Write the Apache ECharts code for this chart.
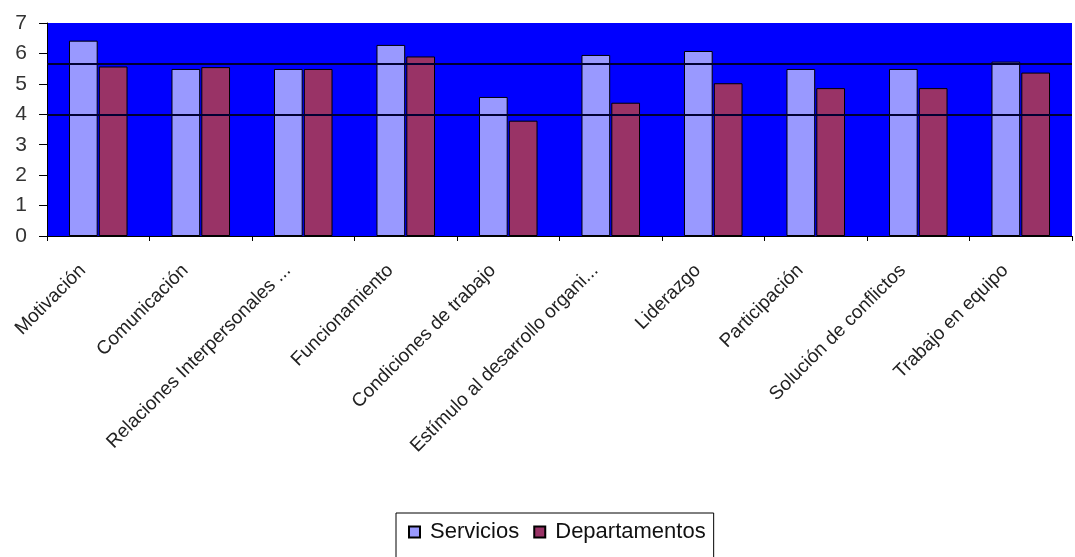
<!DOCTYPE html>
<html>
<head>
<meta charset="utf-8">
<script src="https://cdn.jsdelivr.net/npm/echarts@6/dist/echarts.min.js"></script>
<style>
html,body{margin:0;padding:0;background:#fff;}
#c{width:1075px;height:557px;}
</style>
</head>
<body>
<div id="c"></div>
<script>
const categories = ["Motivación","Comunicación","Relaciones Interpersonales ...","Funcionamiento","Condiciones de trabajo","Estímulo al desarrollo organi...","Liderazgo","Participación","Solución de conflictos","Trabajo en equipo"];
const servicios = [6.42,5.49,5.49,6.28,4.57,5.95,6.08,5.49,5.49,5.73];
const departamentos = [5.57,5.55,5.49,5.90,3.79,4.38,5.02,4.86,4.86,5.37];
const referenceLines = [5.67,3.97];
const yTicks = [0,1,2,3,4,5,6,7];

const chart = echarts.init(document.getElementById('c'), null, {renderer:'canvas'});
chart.setOption({
  animation:false,
  backgroundColor:'#ffffff',
  grid:{left:47,right:3,top:23,bottom:321,show:true,backgroundColor:'#0000ff',borderWidth:0},
  legend:{
    top:513,left:396,
    data:['Servicios','Departamentos'],
    itemWidth:11,itemHeight:11,itemGap:14,
    borderColor:'#000',borderWidth:1,padding:[8,8,20,12],
    textStyle:{fontFamily:'Liberation Sans, Arial',fontSize:22,color:'#111',padding:[0,0,0,5]},
    icon:'rect'
  },
  xAxis:{
    type:'category',data:categories,
    axisLine:{lineStyle:{color:'#000',width:1}},
    axisTick:{show:true,length:5,lineStyle:{color:'#000'}},
    axisLabel:{rotate:45,fontFamily:'Liberation Sans, Arial',fontSize:19,color:'#222',margin:16,padding:[0,22,0,0],interval:0}
  },
  yAxis:{
    type:'value',min:yTicks[0],max:yTicks[yTicks.length-1],interval:1,
    axisLine:{show:true,lineStyle:{color:'#000',width:1}},
    axisTick:{show:true,length:8,lineStyle:{color:'#000'}},
    splitLine:{show:false},
    axisLabel:{fontFamily:'Liberation Sans, Arial',fontSize:21,color:'#333',margin:20}
  },
  series:[
    {name:'Servicios',type:'bar',data:servicios,barWidth:'28%',barGap:'4%',
     itemStyle:{color:'#9999ff',borderColor:'#000',borderWidth:1},
     markLine:{silent:true,symbol:'none',label:{show:false},
       lineStyle:{color:'#000033',width:2,type:'solid'},
       data:referenceLines.map(v=>({yAxis:v}))},
     z:2},
    {name:'Departamentos',type:'bar',data:departamentos,barWidth:'28%',
     itemStyle:{color:'#993366',borderColor:'#000',borderWidth:1},z:2}
  ]
});
</script>
</body>
</html>
